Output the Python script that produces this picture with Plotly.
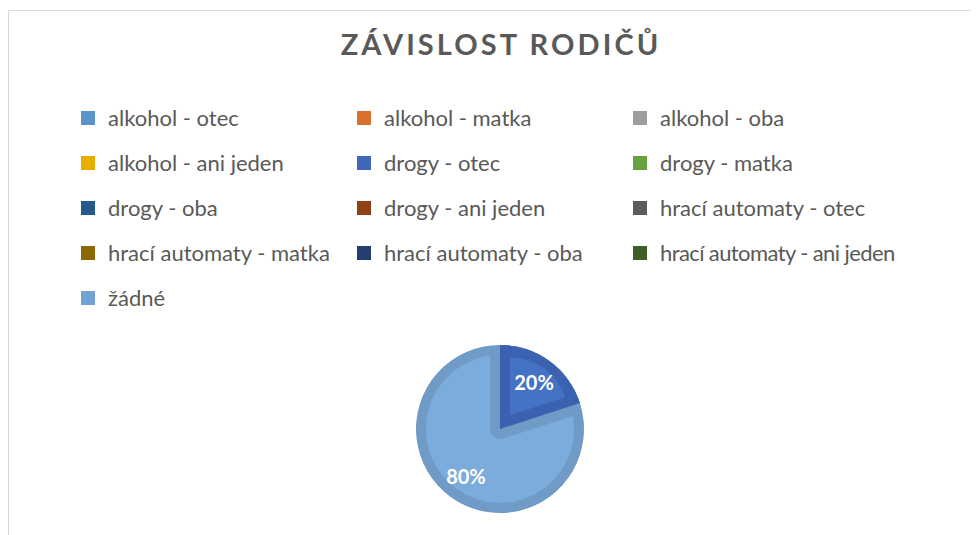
import plotly.graph_objects as go

# ---- data ----
categories = ["alkohol - otec", "alkohol - matka", "alkohol - oba", "alkohol - ani jeden",
              "drogy - otec", "drogy - matka", "drogy - oba", "drogy - ani jeden",
              "hrací automaty - otec", "hrací automaty - matka", "hrací automaty - oba",
              "hrací automaty - ani jeden", "žádné"]
shares = [0, 0, 0, 0, 20, 0, 0, 0, 0, 0, 0, 0, 80]
title_text = "ZÁVISLOST RODIČŮ"

# ---- styles ----
legend_colors = ["#5B93CB", "#D9712E", "#9E9E9E", "#E8AF00", "#4068BA", "#66A03F", "#245A8B",
                 "#8F4213", "#5C5C5C", "#8C6A00", "#243F70", "#3E5F28", "#72A1D4"]
band_colors = {"drogy - otec": "#3A62B0", "žádné": "#6F9BC6"}
fill_colors = {"drogy - otec": "#4472C4", "žádné": "#7BACDC"}
TR = "rgba(0,0,0,0)"

W, H = 971, 527          # page adds an 8px body margin
CX, CY = 492, 421
R = 84
FONT = "Lato"
TXT = "#595959"
LEG_TEXT = 22            # visible legend text size
LEG_ROW = 45             # legend row pitch


def dom(half):
    return dict(x=[(CX - half) / W, (CX + half) / W],
                y=[1 - (CY + half) / H, 1 - (CY - half) / H])


used = [(c, v) for c, v in zip(categories, shares) if v > 0]
u_labels = [c for c, _ in used]
u_values = [v for _, v in used]
i20 = u_labels.index("drogy - otec")
i80 = u_labels.index("žádné")


def only(idx, color):
    return [color if i == idx else TR for i in range(len(u_labels))]


common = dict(sort=False, direction="clockwise", rotation=0, hoverinfo="skip",
              showlegend=False, textinfo="none")

fig = go.Figure()


def leg_label(c):
    spacing = "letter-spacing:-0.6px;" if len(c) > 24 else ""
    return '<span style="font-size:%dpx;baseline-shift:5.5px;%s">%s</span>' % (LEG_TEXT, spacing, c)


# legend trace with every category (drawn underneath, fully covered)
fig.add_trace(go.Pie(
    labels=[leg_label(c) for c in categories], values=shares,
    marker=dict(colors=legend_colors, line=dict(color=legend_colors, width=2)),
    sort=False, direction="clockwise", rotation=0, textinfo="none",
    domain=dom(R - 2), showlegend=True, hoverinfo="skip"))

# outer band (dark)
fig.add_trace(go.Pie(labels=u_labels, values=u_values, domain=dom(R),
                     marker=dict(colors=[band_colors[l] for l in u_labels], line=dict(width=0)),
                     **common))
# light body of big slice
fig.add_trace(go.Pie(labels=u_labels, values=u_values, domain=dom(R - 10),
                     marker=dict(colors=only(i80, fill_colors["žádné"]), line=dict(width=0)),
                     **common))
# band of big slice along the small slice's edges
fig.add_trace(go.Pie(labels=u_labels, values=u_values, domain=dom(R - 10),
                     marker=dict(colors=only(i20, band_colors["žádné"]),
                                 line=dict(color=only(i20, band_colors["žádné"]),
                                           width=[20 if i == i20 else 0 for i in range(len(u_labels))])),
                     **common))
# small slice dark band
fig.add_trace(go.Pie(labels=u_labels, values=u_values, domain=dom(R),
                     marker=dict(colors=only(i20, band_colors["drogy - otec"]), line=dict(width=0)),
                     **common))
# small slice light inset
r_in = 58
pull = 17 / r_in
fig.add_trace(go.Pie(labels=u_labels, values=u_values, domain=dom(r_in * (1 + pull)),
                     pull=[pull if i == i20 else 0 for i in range(len(u_labels))],
                     marker=dict(colors=only(i20, fill_colors["drogy - otec"]), line=dict(width=0)),
                     **common))
# percentage labels
fig.add_trace(go.Pie(labels=u_labels, values=u_values, domain=dom(R), hole=0.38,
                     sort=False, direction="clockwise", rotation=0, hoverinfo="skip",
                     showlegend=False, textinfo="percent", textposition="inside",
                     insidetextorientation="horizontal",
                     textfont=dict(family=FONT, size=20, color="white", weight="bold"),
                     marker=dict(colors=[TR, TR], line=dict(width=0))))

fig.update_layout(
    width=W, height=H,
    margin=dict(l=0, r=0, t=0, b=0),
    paper_bgcolor="white", plot_bgcolor="white",
    title=dict(text='<span style="letter-spacing:3.1px">' + title_text + '</span>',
               x=(CX + 1) / W, xanchor="center", y=1 - 37 / H, yanchor="middle",
               font=dict(family=FONT, size=29, color=TXT, weight="bold")),
    legend=dict(orientation="h", x=60 / W, xanchor="left", y=1 - 82.5 / H, yanchor="top",
                entrywidth=231, entrywidthmode="pixels", traceorder="normal",
                font=dict(family=FONT, size=(LEG_ROW - 3) / 1.3, color=TXT),
                bgcolor="rgba(0,0,0,0)"),
    shapes=[
        dict(type="line", xref="paper", yref="paper", x0=0.5 / W, x1=0.5 / W, y0=0, y1=1 - 2.5 / H,
             line=dict(color="#D9D9D9", width=1)),
        dict(type="line", xref="paper", yref="paper", x0=0.5 / W, x1=1, y0=1 - 2.5 / H, y1=1 - 2.5 / H,
             line=dict(color="#D9D9D9", width=1)),
    ],
)

fig.write_html("out.html")
